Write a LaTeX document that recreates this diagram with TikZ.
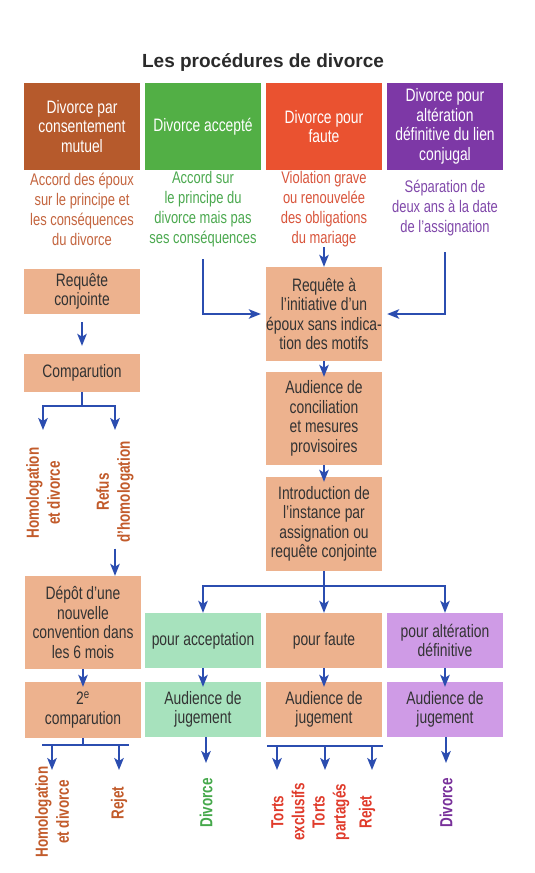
\documentclass[tikz,border=0pt]{standalone}
\usepackage{fontspec}
\setmainfont{Liberation Sans}[FakeStretch=0.77]
\newfontfamily\titlefont{Liberation Sans}
\usetikzlibrary{arrows.meta}

\definecolor{blueline}{HTML}{2B4DB0}
\definecolor{titlegray}{HTML}{2A2A2A}
\definecolor{hdrbrown}{HTML}{B65A2C}
\definecolor{hdrgreen}{HTML}{52AF45}
\definecolor{hdrred}{HTML}{EA5230}
\definecolor{hdrpurple}{HTML}{7D38A6}
\definecolor{txtbrown}{HTML}{C4653F}
\definecolor{txtgreen}{HTML}{4BA94F}
\definecolor{txtred}{HTML}{D9553C}
\definecolor{txtpurple}{HTML}{8048AA}
\definecolor{lightpeach}{HTML}{EDB28E}
\definecolor{lightgreen}{HTML}{A7E2BD}
\definecolor{lightpurple}{HTML}{CF9BE6}
\definecolor{boxtext}{HTML}{333333}
\definecolor{resbrown}{HTML}{C25B2B}
\definecolor{resgreen}{HTML}{45A84B}
\definecolor{resred}{HTML}{E03B2B}
\definecolor{respurple}{HTML}{78309A}

\tikzset{
  hdr/.style={minimum width=116pt,minimum height=87pt,inner sep=0pt,align=center,text=white,font=\fontsize{18}{19.5}\selectfont},
  note/.style={align=center,inner sep=0pt,font=\fontsize{16.8}{20}\selectfont},
  stepbox/.style={minimum width=116pt,inner sep=0pt,align=center,text=boxtext,font=\fontsize{18}{19.5}\selectfont},
  res/.style={rotate=90,align=center,inner sep=0pt,font=\bfseries\fontsize{17.5}{21}\selectfont},
  bar/.style={blueline,line width=1.8pt},
  arr/.style={bar,-{Stealth[length=12pt,width=9.5pt,inset=3pt]}}
}

\begin{document}
\begin{tikzpicture}[x=1pt,y=-1pt]
  \path[fill=white,use as bounding box] (0,0) rectangle (535,873);
  \node[font=\titlefont\bfseries\fontsize{19}{22}\selectfont,text=titlegray] at (263,63) (title) {Les procédures de divorce};

  \node[hdr,fill=hdrbrown] at (82,126.5) (hmut) {Divorce par\\consentement\\mutuel};
  \node[hdr,fill=hdrgreen] at (203,126.5) (hacc) {Divorce accepté};
  \node[hdr,fill=hdrred] at (324,126.5) (hfau) {Divorce pour\\faute};
  \node[hdr,fill=hdrpurple] at (445,126.5) (halt) {Divorce pour\\altération\\définitive du lien\\conjugal};

  \node[note,text=txtbrown] at (82,209) (nmut) {Accord des époux\\sur le principe et\\les conséquences\\du divorce};
  \node[note,text=txtgreen] at (203,209) (nacc) {Accord sur\\le principe du\\divorce mais pas\\ses conséquences};
  \node[note,text=txtred] at (324,209) (nfau) {Violation grave\\ou renouvelée\\des obligations\\du mariage};
  \node[note,text=txtpurple] at (445,208) (nalt) {Séparation de\\deux ans à la date\\de l’assignation};

  \node[stepbox,fill=lightpeach,minimum height=45pt] at (82,291.5) (reqc) {Requête\\conjointe};
  \node[stepbox,fill=lightpeach,minimum height=38pt] at (82,373) (cmp) {Comparution};
  \node[stepbox,fill=lightpeach,minimum height=93pt] at (83,622.5) (depot) {Dépôt d’une\\nouvelle\\convention dans\\les 6 mois};
  \node[stepbox,fill=lightpeach,minimum height=56pt] at (83,710) (cmpb) {2\textsuperscript{e}\\comparution};

  \node[stepbox,fill=lightpeach,minimum height=94pt] at (324,314) (req) {Requête à\\l’initiative d’un\\époux sans indica-\\tion des motifs};
  \node[stepbox,fill=lightpeach,minimum height=93pt] at (324,418.5) (conc) {Audience de\\conciliation\\et mesures\\provisoires};
  \node[stepbox,fill=lightpeach,minimum height=94pt] at (324,524) (intro) {Introduction de\\l’instance par\\assignation ou\\requête conjointe};

  \node[stepbox,fill=lightgreen,minimum height=55pt] at (203,640.5) (pacc) {pour acceptation};
  \node[stepbox,fill=lightpeach,minimum height=55pt] at (324,640.5) (pfau) {pour faute};
  \node[stepbox,fill=lightpurple,minimum height=55pt] at (445,640.5) (palt) {pour altération\\définitive};
  \node[stepbox,fill=lightgreen,minimum height=55pt] at (203,709.5) (jacc) {Audience de\\jugement};
  \node[stepbox,fill=lightpeach,minimum height=55pt] at (324,709.5) (jfau) {Audience de\\jugement};
  \node[stepbox,fill=lightpurple,minimum height=55pt] at (445,709.5) (jalt) {Audience de\\jugement};

  \node[res,text=resbrown] at (43,493) (homa) {Homologation\\et divorce};
  \node[res,text=resbrown] at (115,492) (refus) {Refus\\d’homologation};
  \node[res,text=resbrown] at (52,812) (homb) {Homologation\\et divorce};
  \node[res,text=resbrown] at (119,803) (reja) {Rejet};
  \node[res,text=resgreen] at (206,803) (diva) {Divorce};
  \node[res,text=resred] at (288,812) (tora) {Torts\\exclusifs};
  \node[res,text=resred] at (331,812) (torb) {Torts\\partagés};
  \node[res,text=resred] at (367,812) (rejb) {Rejet};
  \node[res,text=respurple] at (446,803) (divb) {Divorce};

  \coordinate (cmpsplit) at (82,406);
  \coordinate (topend) at (0,430);
  \coordinate (split) at (324,586);
  \coordinate (lbarl) at (42,745);
  \coordinate (lbarr) at (129,745);
  \coordinate (fbarl) at (267,746);
  \coordinate (fbarr) at (383,746);
  \coordinate (fa) at (277,746);
  \coordinate (fb) at (325,746);
  \coordinate (fc) at (372,746);
  \coordinate (botend) at (0,770);
  \coordinate (divend) at (0,763);

  \draw[arr,shorten <=12pt,shorten >=5pt] (nacc.south) |- (req.west);
  \draw[arr,shorten <=16pt,shorten >=5pt] (nalt.south) |- (req.east);
  \draw[arr] (nfau) -- (req);
  \draw[arr,shorten >=-5pt] (req) -- (conc);
  \draw[arr,shorten >=-5pt] (conc) -- (intro);
  \draw[bar] (intro.south) -- (split);
  \draw[arr] (split) -| (pacc.north);
  \draw[arr] (split) -- (pfau.north);
  \draw[arr] (split) -| (palt.north);
  \draw[arr,shorten >=-5pt] (pacc) -- (jacc);
  \draw[arr,shorten >=-5pt] (pfau) -- (jfau);
  \draw[arr,shorten >=-5pt] (palt) -- (jalt);

  \draw[arr,shorten <=8pt,shorten >=8pt] (reqc) -- (cmp);
  \draw[bar] (cmp.south) -- (cmpsplit);
  \draw[arr] (cmpsplit) -| (homa.east |- topend);
  \draw[arr] (cmpsplit) -| (refus.east |- topend);
  \draw[arr,shorten <=6pt] (refus.west) -- (refus.west |- depot.north);
  \draw[arr,shorten >=-5pt] (depot) -- (cmpb);
  \draw[bar] (cmpb.south) -- (cmpb.south |- lbarl);
  \draw[bar] (lbarl) -- (lbarr);
  \draw[arr] (homb.east |- lbarl) -- (homb.east |- botend);
  \draw[arr] (reja.east |- lbarl) -- (reja.east |- botend);

  \draw[arr] (diva.east |- jacc.south) -- (diva.east |- divend);
  \draw[bar] (fbarl) -- (fbarr);
  \draw[arr] (fa) -- (fa |- botend);
  \draw[arr] (fb) -- (fb |- botend);
  \draw[arr] (fc) -- (fc |- botend);
  \draw[arr] (divb.east |- jalt.south) -- (divb.east |- divend);
\end{tikzpicture}
\end{document}
